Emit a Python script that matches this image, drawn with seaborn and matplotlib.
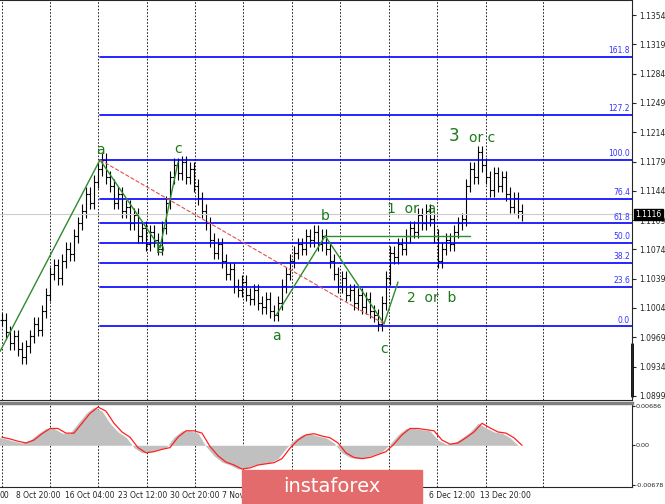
import numpy as np
import matplotlib
matplotlib.use("Agg")
import matplotlib.pyplot as plt
import seaborn as sns

sns.set_style("white")
plt.rcParams['font.family'] = ['DejaVu Sans']

# closes, one per bar (H4-ish bars)
closes = [1.0990, 1.0975, 1.0962, 1.0970, 1.0955, 1.0945, 1.0958, 1.0970, 1.0985, 1.0978,
          1.1000, 1.1020, 1.1045, 1.1055, 1.1040, 1.1060, 1.1075, 1.1068, 1.1090, 1.1105,
          1.1120, 1.1140, 1.1130, 1.1155, 1.1170, 1.1181, 1.1160, 1.1150, 1.1130, 1.1140,
          1.1120, 1.1125, 1.1105, 1.1115, 1.1090, 1.1100, 1.1080, 1.1095, 1.1085, 1.1075,
          1.1100, 1.1130, 1.1160, 1.1175, 1.1165, 1.1178, 1.1160, 1.1170, 1.1150, 1.1135,
          1.1120, 1.1105, 1.1085, 1.1070, 1.1080, 1.1060, 1.1045, 1.1050, 1.1030, 1.1025,
          1.1035, 1.1020, 1.1015, 1.1025, 1.1010, 1.1005, 1.1015, 1.1000, 1.0996, 1.1010,
          1.1030, 1.1045, 1.1060, 1.1070, 1.1080, 1.1075, 1.1090, 1.1085, 1.1095, 1.1080,
          1.1090, 1.1075, 1.1060, 1.1045, 1.1030, 1.1040, 1.1020, 1.1025, 1.1010, 1.1020,
          1.1005, 1.1015, 1.1000, 1.0995, 1.0985, 1.1010, 1.1040, 1.1070, 1.1065, 1.1080,
          1.1075, 1.1090, 1.1100, 1.1095, 1.1115, 1.1105, 1.1120, 1.1110, 1.1090, 1.1060,
          1.1075, 1.1085, 1.1080, 1.1095, 1.1105, 1.1110, 1.1150, 1.1170, 1.1160, 1.1190,
          1.1175, 1.1160, 1.1145, 1.1165, 1.1150, 1.1160, 1.1140, 1.1125, 1.1135, 1.1120, 1.1116]

# oscillator, one value every 2 bars
osc = [0.0014, 0.0011, 0.0007, 0.0004, 0.0009, 0.0020, 0.0029, 0.0029, 0.0021, 0.0021,
       0.0038, 0.0055, 0.0066, 0.0059, 0.0038, 0.0023, 0.0014, -0.0004, -0.0013, -0.0011,
       -0.0007, -0.0004, 0.0014, 0.0025, 0.0025, 0.0021, -0.0002, -0.0018, -0.0029, -0.0034,
       -0.0041, -0.0039, -0.0034, -0.0032, -0.0030, -0.0023, -0.0005, 0.0009, 0.0018, 0.0020,
       0.0016, 0.0013, 0.0004, -0.0013, -0.0021, -0.0023, -0.0021, -0.0016, -0.0011, 0.0002,
       0.0018, 0.0029, 0.0029, 0.0027, 0.0025, 0.0009, 0.0002, 0.0004, 0.0013, 0.0023,
       0.0038, 0.0030, 0.0023, 0.0021, 0.0013, 0.0000]

fib_levels = [0.0, 23.6, 38.2, 50.0, 61.8, 76.4, 100.0, 127.2, 161.8]
fib_low, fib_high = 1.0982, 1.1181
price_ticks = [1.0899, 1.0934, 1.0969, 1.1004, 1.1039, 1.1074, 1.1109, 1.1144, 1.1179,
               1.1214, 1.1249, 1.1284, 1.1319, 1.1354]
date_labels = ["00", "8 Oct 20:00", "16 Oct 04:00", "23 Oct 12:00", "30 Oct 20:00", "7 Nov 04:00",
               "6 Dec 12:00", "13 Dec 20:00"]
date_px = [4, 38, 90, 143, 195, 245, 452, 505]
last_price = 1.1116

# wave marks: (bar index, price, text)
wave_labels = [(24.5, 1.1193, "a"), (39.5, 1.1075, "b"), (44, 1.1194, "c"),
               (68.5, 1.0970, "a"), (80.8, 1.1114, "b"), (95.5, 1.0955, "c"),
               (102.5, 1.1122, "1  or  a"), (107.5, 1.1016, "2  or  b"), (113, 1.1210, "3"),
               (120, 1.1207, "or c")]
wave_lines = [([-0.5, 24.5], [1.0952, 1.1181]), ([24.5, 39.5], [1.1181, 1.1076]),
              ([39.5, 44], [1.1076, 1.1178]), ([68.5, 80.8], [1.0995, 1.1090]),
              ([80.8, 95.5], [1.1090, 1.0985]), ([80.8, 117], [1.1090, 1.1090]),
              ([95.5, 99], [1.0985, 1.1035])]

def px(p):
    return (p - 2) / 4.0

fig = plt.figure(figsize=(6.65, 5.04), dpi=100)
ax = fig.add_axes([0, 1 - 400 / 504, 632 / 665, 400 / 504])
ax2 = fig.add_axes([0, 1 - 487 / 504, 632 / 665, 84 / 504])

x = np.arange(len(closes))
c = np.array(closes)
o = np.concatenate([[c[0]], c[:-1]])
hi = np.maximum(o, c) + 0.0008
lo = np.minimum(o, c) - 0.0008
ax.vlines(x, lo, hi, color="black", lw=0.8)
ax.hlines(o, x - 0.45, x, color="black", lw=0.8)
ax.hlines(c, x, x + 0.45, color="black", lw=0.8)

for lv in fib_levels:
    y = fib_low + (fib_high - fib_low) * lv / 100
    ax.plot([px(100), px(632)], [y, y], color="#0000ff", lw=1.2)
    ax.text(px(630), y + 0.0002, f"{lv:.1f}", color="#3333ff", fontsize=5.5,
            ha="right", va="bottom")

ax.axhline(last_price, color="#cccccc", lw=0.8)
for xs, ys in wave_lines:
    ax.plot(xs, ys, color="#2e8b2e", lw=1.0)
ax.plot([24.5, 95.5], [1.1181, 1.0985], color="#e05050", lw=0.8, ls="--")
for xi, yi, t in wave_labels:
    ax.text(xi, yi, t, color="#1a7a1a", fontsize=12 if t == "3" else 10, ha="center", va="center")

ax.set_xlim(px(0), px(632))
ax.set_ylim(1.0894, 1.1372)
ax.yaxis.tick_right()
ax.set_yticks(price_ticks)
ax.set_yticklabels([f"{t:.4f}" for t in price_ticks], fontsize=5.5)
ax.tick_params(axis="y", length=3, pad=2)
ax.set_xticks([])
ax.text(1.005, (last_price - 1.0894) / (1.1372 - 1.0894), f"{last_price:.4f}",
        transform=ax.transAxes, fontsize=5.5, color="white", va="center",
        bbox=dict(boxstyle="square,pad=0.15", fc="black", ec="black"))
ax.plot([1.0, 1.0], [0.01, 0.14], transform=ax.transAxes, color="black", lw=2, clip_on=False)

# oscillator
ox = np.arange(len(osc)) * 2
ax2.fill_between(ox - 1, osc, 0, color="#c0c0c0", lw=0)
sns.lineplot(x=ox, y=osc, ax=ax2, color="#ff2020", lw=0.9)
ax2.set_xlim(px(0), px(632))
ax2.set_ylim(-0.0072, 0.0073)
ax2.yaxis.tick_right()
ax2.set_yticks([-0.00678, 0.0, 0.00686])
ax2.set_yticklabels(["-0.00678", "0.00", "0.00686"], fontsize=4.6)
ax2.tick_params(axis="y", length=2, pad=0.5)
ax2.set_xticks([px(p) for p in date_px])
ax2.set_xticklabels(date_labels, fontsize=5.5)
ax2.tick_params(axis="x", length=0, pad=3)
ax2.spines["top"].set_color("#808080")
ax2.spines["top"].set_linewidth(2.5)

for a in (ax, ax2):
    for p in [2, 50, 98, 147, 195, 243, 292, 340, 389, 437, 486, 543]:
        a.axvline(px(p), color="black", lw=0.6, ls=(0, (2, 2)), zorder=0)
    a.spines["left"].set_visible(False)

fig.patches.append(plt.Rectangle((242 / 665, 0), 180 / 665, 34 / 504, transform=fig.transFigure,
                                 color="#e46b6b", zorder=5))
fig.text(332 / 665, 17 / 504, "instaforex", color="white", fontsize=14, ha="center",
         va="center", zorder=6)

fig.savefig("out.png", dpi=100)
